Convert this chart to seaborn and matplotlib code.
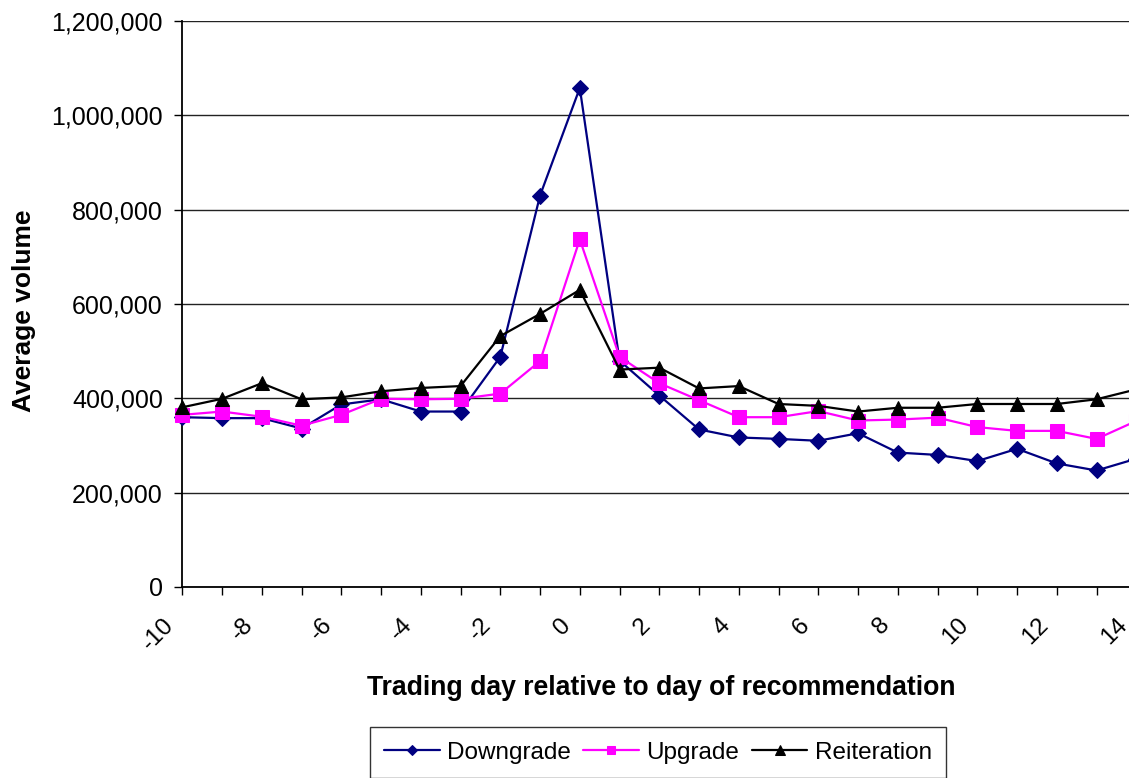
import matplotlib
matplotlib.use("Agg")
import matplotlib.pyplot as plt
import matplotlib.ticker as mticker
import matplotlib.transforms as mtransforms
import seaborn as sns
import pandas as pd

days = [-10, -9, -8, -7, -6, -5, -4, -3, -2, -1, 0, 1, 2, 3, 4, 5, 6, 7, 8, 9, 10, 11, 12, 13, 14]
downgrade = [360000, 358000, 358000, 336000, 387000, 398000, 372000, 372000, 488000, 830000,
             1058000, 480000, 406000, 334000, 317000, 314000, 310000, 326000, 285000, 280000,
             267000, 293000, 262000, 247000, 272000]
upgrade = [365000, 372000, 361000, 342000, 365000, 399000, 398000, 399000, 410000, 479000,
           737000, 488000, 432000, 396000, 360000, 360000, 373000, 353000, 355000, 359000,
           339000, 331000, 331000, 314000, 352000]
reiteration = [381000, 399000, 432000, 398000, 402000, 415000, 422000, 426000, 532000, 579000,
               630000, 461000, 465000, 421000, 426000, 388000, 384000, 372000, 380000, 380000,
               388000, 388000, 388000, 398000, 419000]
series_names = ["Downgrade", "Upgrade", "Reiteration"]
y_ticks = [0, 200000, 400000, 600000, 800000, 1000000, 1200000]
x_major = [-10, -8, -6, -4, -2, 0, 2, 4, 6, 8, 10, 12, 14]

sns.set_style("white")
plt.rcParams["font.family"] = ["Liberation Sans", "DejaVu Sans"]
plt.rcParams.update({"text.color": "black", "axes.labelcolor": "black",
                     "xtick.color": "black", "ytick.color": "black"})

W, H = 1129, 778
fig = plt.figure(figsize=(W / 100, H / 100), dpi=100)
left_px, right_px, top_px, bottom_px = 182.3, 1136.3, 21, 587
ax = fig.add_axes([left_px / W, 1 - bottom_px / H, (right_px - left_px) / W, (bottom_px - top_px) / H])

df = pd.DataFrame({"day": days, "Downgrade": downgrade, "Upgrade": upgrade, "Reiteration": reiteration})
styles = {
    "Downgrade": dict(color="#000080", marker="D", markersize=8.5),
    "Upgrade": dict(color="#FF00FF", marker="s", markersize=9.5),
    "Reiteration": dict(color="#000000", marker="^", markersize=10),
}
for i, name in enumerate(series_names):
    st = styles[name]
    sns.lineplot(data=df, x="day", y=name, ax=ax, color=st["color"], marker=st["marker"],
                 markersize=st["markersize"], markeredgecolor=st["color"], markerfacecolor=st["color"],
                 linewidth=1.6, label=name, clip_on=False, zorder=3 + i)

ax.set_xlim(-10, 14)
ax.set_ylim(0, 1200000)
ax.set_yticks(y_ticks)
ax.yaxis.set_major_formatter(mticker.FuncFormatter(lambda v, p: f"{v:,.0f}"))
ax.set_xticks(x_major)
ax.set_xticks(days, minor=True)
ax.set_xticklabels([str(d) for d in x_major])

ax.grid(axis="y", color="#222222", linewidth=1.0)
ax.grid(axis="x", visible=False)
ax.set_axisbelow(True)
for s in ["top", "right"]:
    ax.spines[s].set_visible(False)
for s in ["left", "bottom"]:
    ax.spines[s].set_color("black")
    ax.spines[s].set_linewidth(1.3)

ax.tick_params(axis="y", which="both", direction="out", length=6, width=1, color="black",
               left=True, labelsize=18, pad=8)
ax.tick_params(axis="x", which="both", direction="out", length=6, width=1, color="black",
               bottom=True, labelsize=17.5, pad=19)

offset = mtransforms.ScaledTranslation(-0.12, 0, fig.dpi_scale_trans)
for lab in ax.get_xticklabels():
    lab.set_rotation(45)
    lab.set_ha("right")
    lab.set_va("center")
    lab.set_rotation_mode("anchor")
    lab.set_transform(lab.get_transform() + offset)

ax.set_xlabel("Trading day relative to day of recommendation", fontsize=19.2, fontweight="bold")
ax.set_ylabel("Average volume", fontsize=19, fontweight="bold")
ax.xaxis.set_label_coords((661 - left_px) / (right_px - left_px), -(675 - bottom_px) / (bottom_px - top_px))
ax.yaxis.set_label_coords(-(left_px - 36) / (right_px - left_px), 0.488)

handles, labels = ax.get_legend_handles_labels()
ax.get_legend().remove()
leg = fig.legend(handles, labels, loc="upper center", bbox_to_anchor=(658 / W, 1 - 727 / H),
                 ncol=3, frameon=True, fancybox=False, edgecolor="black", fontsize=17.5,
                 handlelength=2.3, columnspacing=0.5, handletextpad=0.3, borderpad=0.6,
                 borderaxespad=0, markerscale=0.65)
leg.get_frame().set_linewidth(1.0)

fig.savefig("out.png", dpi=100)
